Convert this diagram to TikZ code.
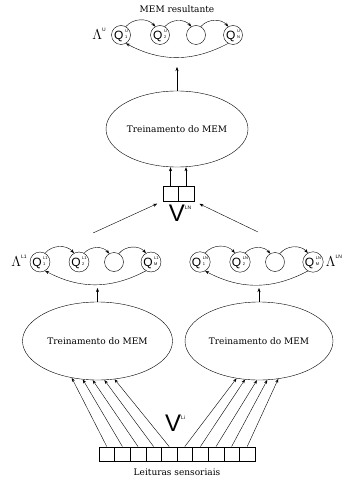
\documentclass[tikz,border=0pt]{standalone}
\usepackage{fontspec}
\setmainfont{DejaVu Serif}
\setsansfont{Liberation Sans}
\usetikzlibrary{arrows.meta,shapes.geometric}

\newcommand{\qlab}[2]{{\fontsize{12}{12}\selectfont\sffamily Q}\hspace{1.6pt}\raisebox{3.5pt}{\fontsize{4}{5}\selectfont\sffamily\begin{tabular}{@{}l@{}}#1\\[1.5pt]#2\end{tabular}}}
\newcommand{\lamlab}[1]{{\fontsize{15}{15}\selectfont$\Lambda$}\raisebox{8pt}{\fontsize{5}{5}\selectfont\sffamily #1}}
\newcommand{\vlab}[1]{{\fontsize{24}{24}\selectfont\sffamily V}\raisebox{12pt}{\fontsize{5}{5}\selectfont\sffamily #1}}

\tikzset{
  state/.style={draw, circle, minimum size=19pt, inner sep=0pt},
  train/.style={draw, ellipse, minimum width=150pt, minimum height=78pt, inner sep=0pt},
  cell/.style={draw, minimum width=15.6pt, minimum height=14.5pt, inner sep=0pt},
  txt/.style={font=\fontsize{9}{11}\selectfont}
}

\begin{document}
\begin{tikzpicture}[x=1pt, y=-1pt, >={Stealth[length=4pt,width=3pt]}]
\useasboundingbox (0,0) rectangle (345,481);

% resulting model
\node [txt] (res) at (177,9) {MEM resultante};
\node (ulam) at (99,34) {\lamlab{U}};
\node [state] (u1) at (121,35) {\qlab{U}{1}};
\node [state] (u2) at (160,35) {\qlab{U}{2}};
\node [state] (u3) at (196,35) {};
\node [state] (u4) at (233,35) {\qlab{U}{N}};
\foreach \a/\b in {u1/u2,u2/u3,u3/u4}
\draw [->] (\a.60) to[bend left=50] (\b.120);
\draw [->] (u4.-120) to[bend left=28] (u1.-60);
\coordinate (ulo) at (177,67);

\node [train, minimum width=142pt, minimum height=76pt, txt] (mem) at (177,129) {Treinamento do MEM};
\draw [->] (mem.north) -- (ulo);

% concatenated vector
\node [cell, minimum width=15.5pt, minimum height=15pt] (c1) at (170.5,193.5) {};
\node [cell, minimum width=15.5pt, minimum height=15pt] (c2) at (186,193.5) {};
\node (vln) at (180,213) {\vlab{LN}};
\draw [->] (c1.north) -- (c1.north |- mem.south);
\draw [->] (c2.north) -- (c2.north |- mem.south);

% left model
\node (alam) at (19,261) {\lamlab{L1}};
\node [state] (a1) at (40,262) {\qlab{L1}{1}};
\node [state] (a2) at (79,262) {\qlab{L1}{2}};
\node [state] (a3) at (114,262) {};
\node [state] (a4) at (151,262) {\qlab{L1}{M}};
\foreach \a/\b in {a1/a2,a2/a3,a3/a4}
\draw [->] (\a.60) to[bend left=50] (\b.120);
\draw [->] (a4.-120) to[bend left=28] (a1.-60);
\coordinate (aout) at (93,233);
\coordinate (alo) at (97.5,288);
\draw [->, shorten >=6pt] (aout) -- (c1.south west);

% right model
\node (blam) at (334,261) {\lamlab{LN}};
\node [state] (b1) at (200,262) {\qlab{LN}{1}};
\node [state] (b2) at (240,262) {\qlab{LN}{2}};
\node [state] (b3) at (275,262) {};
\node [state] (b4) at (313,262) {\qlab{LN}{M}};
\foreach \a/\b in {b1/b2,b2/b3,b3/b4}
\draw [->] (\a.60) to[bend left=50] (\b.120);
\draw [->] (b4.-120) to[bend left=28] (b1.-60);
\coordinate (bout) at (258,232);
\coordinate (blo) at (259,288);
\draw [->, shorten >=6pt] (bout) -- (c2.south east);

% training
\node [train, txt] (lm) at (97.5,341) {Treinamento do MEM};
\node [train, minimum width=148pt, txt] (rm) at (259,341) {Treinamento do MEM};
\draw [->] (lm.north) -- (alo);
\draw [->] (rm.north) -- (blo);

% sensor readings
\foreach \i in {1,...,10}
\node [cell] (s\i) at ({99+15.6*(\i-0.5)},454) {};
\node [txt] (sens) at (177,472) {Leituras sensoriais};
\node (vli) at (175,423) {\vlab{Li}};
\foreach \i/\a in {1/-125,2/-111,3/-97,4/-80,5/-66}
\draw [->] (s\i.north) -- (lm.\a);
\foreach \i/\a in {6/-121,7/-110,8/-93,9/-78,10/-63}
\draw [->] (s\i.north) -- (rm.\a);
\end{tikzpicture}
\end{document}
